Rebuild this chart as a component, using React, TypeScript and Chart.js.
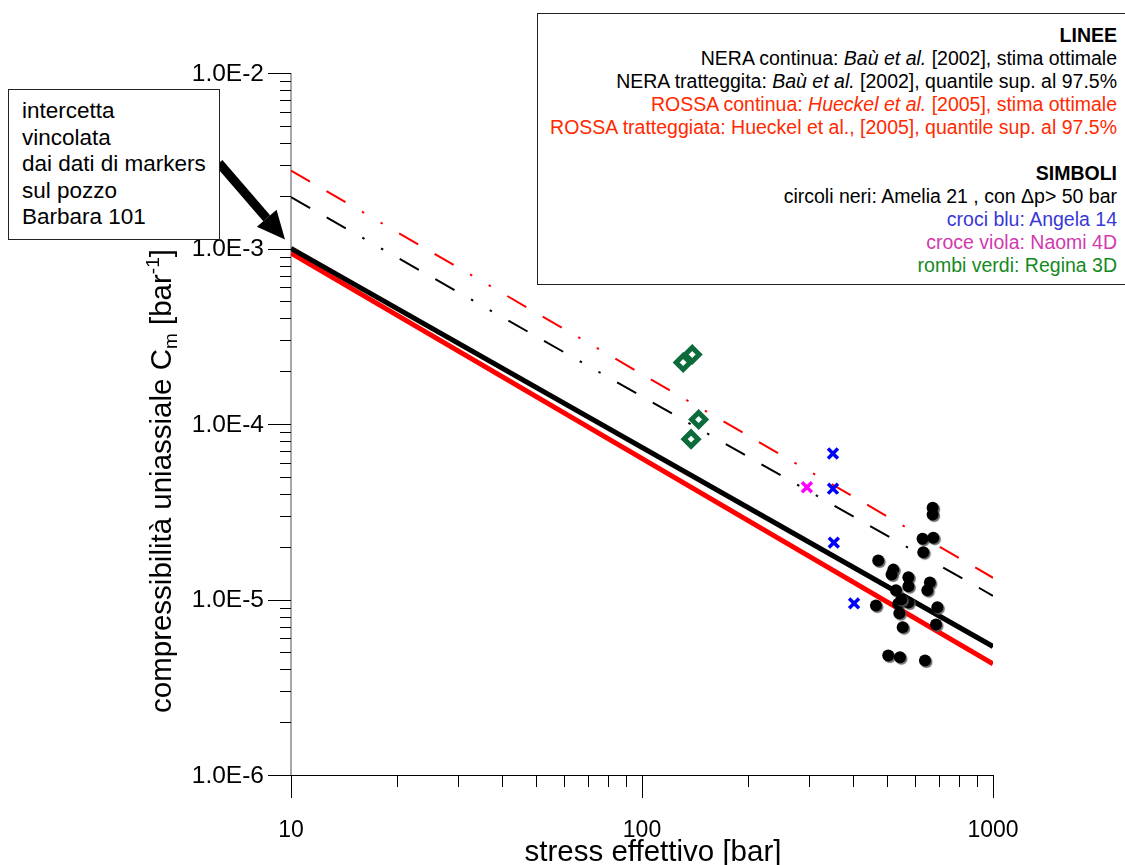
import React, { useEffect, useRef } from 'react';
import { Chart, registerables } from 'chart.js';

Chart.register(...registerables);

// ---- data ----
const STRESS_ENDS = [10, 1000];
const BLACK_SOLID = [1.0e-3, 5.4e-6];
const BLACK_DASHED = [1.96e-3, 1.05e-5];
const RED_SOLID = [9.4e-4, 4.3e-6];
const RED_DASHED = [2.78e-3, 1.33e-5];

const AMELIA_X = [673, 673, 630, 676, 633, 471, 520, 514, 574, 574, 661, 650, 529, 464, 537, 574, 541, 548, 694, 688, 553, 503, 543, 640];
const AMELIA_Y = [3.33e-5, 3.05e-5, 2.22e-5, 2.25e-5, 1.86e-5, 1.67e-5, 1.48e-5, 1.39e-5, 1.34e-5, 1.19e-5, 1.25e-5, 1.13e-5, 1.13e-5, 9.24e-6, 9.45e-6, 9.6e-6, 8.35e-6, 1.0e-5, 9.04e-6, 7.2e-6, 6.95e-6, 4.8e-6, 4.69e-6, 4.49e-6];

const ANGELA_X = [350, 350, 352, 402];
const ANGELA_Y = [6.79e-5, 4.28e-5, 2.11e-5, 9.5e-6];

const NAOMI_X = [295];
const NAOMI_Y = [4.36e-5];

const REGINA_X = [131, 139, 145, 138];
const REGINA_Y = [2.24e-4, 2.49e-4, 1.06e-4, 8.2e-5];

const X_MAJOR = [10, 100, 1000];
const X_TICK_LABELS = ['10', '100', '1000'];
const Y_MAJOR = [1e-6, 1e-5, 1e-4, 1e-3, 1e-2];
const Y_TICK_LABELS = ['1.0E-6', '1.0E-5', '1.0E-4', '1.0E-3', '1.0E-2'];

const X_TITLE = 'stress effettivo [bar]';
const Y_TITLE_MAIN = 'compressibilità uniassiale C';
const Y_TITLE_SUB = 'm';
const Y_TITLE_MID = ' [bar';
const Y_TITLE_SUP = '-1';
const Y_TITLE_END = ']';

const NOTE_LINES = ['intercetta', 'vincolata', 'dai dati di markers', 'sul pozzo', 'Barbara 101'];

const FONT = '"Liberation Sans", Arial, Helvetica, sans-serif';

const pts = (xs: number[], ys: number[]) => xs.map((x, i) => ({ x, y: ys[i] }));

const axesPlugin = {
  id: 'customAxes',
  beforeDatasetsDraw(chart: any) {
    const { ctx, chartArea } = chart;
    const xs = chart.scales.x;
    const ys = chart.scales.y;
    ctx.save();
    // y axis line
    ctx.strokeStyle = '#8a8a8a';
    ctx.lineWidth = 1.5;
    ctx.beginPath();
    ctx.moveTo(chartArea.left, chartArea.top);
    ctx.lineTo(chartArea.left, chartArea.bottom);
    ctx.stroke();
    // x axis line
    ctx.strokeStyle = '#000';
    ctx.lineWidth = 1;
    ctx.beginPath();
    ctx.moveTo(chartArea.left, chartArea.bottom + 0.5);
    ctx.lineTo(chartArea.right, chartArea.bottom + 0.5);
    ctx.stroke();
    // x ticks
    for (let d = 0; d < X_MAJOR.length; d++) {
      const px = Math.round(xs.getPixelForValue(X_MAJOR[d])) + 0.5;
      ctx.beginPath();
      ctx.moveTo(px, chartArea.bottom);
      ctx.lineTo(px, chartArea.bottom + 23);
      ctx.stroke();
      if (d < X_MAJOR.length - 1) {
        for (let m = 2; m <= 9; m++) {
          const p = Math.round(xs.getPixelForValue(X_MAJOR[d] * m)) + 0.5;
          ctx.beginPath();
          ctx.moveTo(p, chartArea.bottom);
          ctx.lineTo(p, chartArea.bottom + 12);
          ctx.stroke();
        }
      }
    }
    // y ticks
    for (let d = 0; d < Y_MAJOR.length; d++) {
      const py = Math.round(ys.getPixelForValue(Y_MAJOR[d])) + 0.5;
      ctx.beginPath();
      ctx.moveTo(chartArea.left - 23, py);
      ctx.lineTo(chartArea.left, py);
      ctx.stroke();
      if (d < Y_MAJOR.length - 1) {
        for (let m = 2; m <= 9; m++) {
          const p = Math.round(ys.getPixelForValue(Y_MAJOR[d] * m)) + 0.5;
          ctx.beginPath();
          ctx.moveTo(chartArea.left - 11, p);
          ctx.lineTo(chartArea.left, p);
          ctx.stroke();
        }
      }
    }
    // tick labels
    ctx.fillStyle = '#000';
    ctx.font = `24.5px ${FONT}`;
    ctx.textAlign = 'right';
    ctx.textBaseline = 'middle';
    Y_MAJOR.forEach((v, i) => {
      ctx.fillText(Y_TICK_LABELS[i], chartArea.left - 27, ys.getPixelForValue(v) + 1);
    });
    ctx.font = `23px ${FONT}`;
    ctx.textAlign = 'center';
    ctx.textBaseline = 'alphabetic';
    X_MAJOR.forEach((v, i) => {
      ctx.fillText(X_TICK_LABELS[i], xs.getPixelForValue(v), chartArea.bottom + 62);
    });
    // x title
    ctx.font = `29.5px ${FONT}`;
    ctx.textAlign = 'center';
    ctx.fillText(X_TITLE, 653, 861);
    // y title (rotated, with subscript and superscript)
    ctx.translate(171, 713);
    ctx.rotate(-Math.PI / 2);
    ctx.textAlign = 'left';
    ctx.textBaseline = 'alphabetic';
    let cx = 0;
    ctx.font = `29.5px ${FONT}`;
    ctx.fillText(Y_TITLE_MAIN, cx, 0);
    cx += ctx.measureText(Y_TITLE_MAIN).width;
    ctx.font = `19px ${FONT}`;
    ctx.fillText(Y_TITLE_SUB, cx, 6);
    cx += ctx.measureText(Y_TITLE_SUB).width;
    ctx.font = `29.5px ${FONT}`;
    ctx.fillText(Y_TITLE_MID, cx, 0);
    cx += ctx.measureText(Y_TITLE_MID).width;
    ctx.font = `19px ${FONT}`;
    ctx.fillText(Y_TITLE_SUP, cx, -12);
    cx += ctx.measureText(Y_TITLE_SUP).width;
    ctx.font = `29.5px ${FONT}`;
    ctx.fillText(Y_TITLE_END, cx, 0);
    ctx.restore();

    // arrow from annotation box toward intercept
    const tipX = xs.getPixelForValue(STRESS_ENDS[0]) - 6;
    const tipY = ys.getPixelForValue(BLACK_SOLID[0]) - 9;
    const sx = 219, sy = 163;
    const ang = Math.atan2(tipY - sy, tipX - sx);
    const headLen = 28, headW = 13;
    const bx = tipX - Math.cos(ang) * headLen;
    const by = tipY - Math.sin(ang) * headLen;
    ctx.save();
    ctx.strokeStyle = '#000';
    ctx.fillStyle = '#000';
    ctx.lineWidth = 9;
    ctx.beginPath();
    ctx.moveTo(sx, sy);
    ctx.lineTo(bx, by);
    ctx.stroke();
    ctx.beginPath();
    ctx.moveTo(tipX, tipY);
    ctx.lineTo(bx + Math.sin(ang) * headW, by - Math.cos(ang) * headW);
    ctx.lineTo(bx - Math.sin(ang) * headW, by + Math.cos(ang) * headW);
    ctx.closePath();
    ctx.fill();
    ctx.restore();
  },
};

const shadowPlugin = {
  id: 'markerShadow',
  beforeDatasetDraw(chart: any, args: any) {
    const ds = chart.data.datasets[args.index];
    if (ds.label === 'Amelia 21') {
      chart.ctx.save();
      chart.ctx.shadowColor = 'rgba(90,90,90,0.9)';
      chart.ctx.shadowOffsetX = 1.5;
      chart.ctx.shadowOffsetY = 1.5;
      chart.ctx.shadowBlur = 1;
    }
  },
  afterDatasetDraw(chart: any, args: any) {
    const ds = chart.data.datasets[args.index];
    if (ds.label === 'Amelia 21') chart.ctx.restore();
  },
};

const LEGEND_ROWS: { color: string; parts: { t: string; s?: 'b' | 'i' }[] }[] = [
  { color: '#000', parts: [{ t: 'LINEE', s: 'b' }] },
  { color: '#000', parts: [{ t: 'NERA continua: ' }, { t: 'Baù et al.', s: 'i' }, { t: ' [2002], stima ottimale' }] },
  { color: '#000', parts: [{ t: 'NERA tratteggita: ' }, { t: 'Baù et al.', s: 'i' }, { t: ' [2002], quantile sup. al 97.5%' }] },
  { color: '#ff2a00', parts: [{ t: 'ROSSA continua: ' }, { t: 'Hueckel et al.', s: 'i' }, { t: ' [2005], stima ottimale' }] },
  { color: '#ff2a00', parts: [{ t: 'ROSSA tratteggiata: Hueckel et al., [2005], quantile sup. al 97.5%' }] },
  { color: '#000', parts: [{ t: '\u00a0' }] },
  { color: '#000', parts: [{ t: 'SIMBOLI', s: 'b' }] },
  { color: '#000', parts: [{ t: 'circoli neri: Amelia 21 , con Δp> 50 bar' }] },
  { color: '#3838d8', parts: [{ t: 'croci blu: Angela 14' }] },
  { color: '#d23aae', parts: [{ t: 'croce viola: Naomi 4D' }] },
  { color: '#148a1e', parts: [{ t: 'rombi verdi: Regina 3D' }] },
];

export default function App() {
  const ref = useRef<HTMLCanvasElement | null>(null);

  useEffect(() => {
    if (!ref.current) return;
    const lineDs = (label: string, ys: number[], color: string, width: number, dash: number[], order: number) => ({
      type: 'line' as const,
      label,
      data: pts(STRESS_ENDS, ys),
      borderColor: color,
      backgroundColor: color,
      borderWidth: width,
      borderDash: dash,
      pointRadius: 0,
      showLine: true,
      fill: false,
      order,
    });
    const DASH = [22, 19, 22, 19, 2.5, 19, 2.5, 19];
    const chart = new Chart(ref.current, {
      type: 'scatter',
      data: {
        datasets: [
          {
            label: 'Amelia 21',
            data: pts(AMELIA_X, AMELIA_Y),
            pointStyle: 'circle',
            pointRadius: 6,
            backgroundColor: '#000',
            borderColor: '#000',
            borderWidth: 0,
            order: 0,
          },
          {
            label: 'Angela 14',
            data: pts(ANGELA_X, ANGELA_Y),
            pointStyle: 'crossRot',
            pointRadius: 7,
            borderColor: '#0000ff',
            borderWidth: 3.5,
            order: 0,
          },
          {
            label: 'Naomi 4D',
            data: pts(NAOMI_X, NAOMI_Y),
            pointStyle: 'crossRot',
            pointRadius: 7,
            borderColor: '#ff00ff',
            borderWidth: 3.5,
            order: 0,
          },
          {
            label: 'Regina 3D',
            data: pts(REGINA_X, REGINA_Y),
            pointStyle: 'rectRot',
            pointRadius: 7,
            backgroundColor: '#ffffff',
            borderColor: '#0b6b3a',
            borderWidth: 5,
            order: 0,
          },
          lineDs('Baù solid', BLACK_SOLID, '#000', 5, [], 1),
          lineDs('Hueckel solid', RED_SOLID, '#ff0000', 5, [], 2),
          lineDs('Baù dashed', BLACK_DASHED, '#000', 2, DASH, 1),
          lineDs('Hueckel dashed', RED_DASHED, '#ff0000', 2, DASH, 2),
        ] as any,
      },
      options: {
        responsive: false,
        animation: false,
        layout: { padding: { left: 291, right: 132, top: 73, bottom: 90 } },
        plugins: { legend: { display: false }, tooltip: { enabled: false } },
        scales: {
          x: { type: 'logarithmic', min: 10, max: 1000, display: false },
          y: { type: 'logarithmic', min: 1e-6, max: 1e-2, display: false },
        },
      },
      plugins: [axesPlugin, shadowPlugin],
    });
    return () => chart.destroy();
  }, []);

  return (
    <div style={{ position: 'absolute', left: 0, top: 0, width: 1125, height: 865, background: '#fff', overflow: 'hidden' }}>
      <canvas ref={ref} width={1125} height={865} style={{ position: 'absolute', left: 0, top: 0 }} />
      <div
        style={{
          position: 'absolute',
          left: 537,
          top: 13,
          width: 588,
          height: 272,
          boxSizing: 'border-box',
          border: '1px solid #222',
          borderRight: 'none',
          background: '#fff',
          fontFamily: FONT,
          fontSize: 19.5,
          lineHeight: '23px',
          textAlign: 'right',
          paddingTop: 10,
          paddingRight: 8,
          whiteSpace: 'nowrap',
        }}
      >
        {LEGEND_ROWS.map((row, i) => (
          <div key={i} style={{ color: row.color }}>
            {row.parts.map((p, j) =>
              p.s === 'b' ? (
                <b key={j}>{p.t}</b>
              ) : p.s === 'i' ? (
                <i key={j}>{p.t}</i>
              ) : (
                <span key={j}>{p.t}</span>
              )
            )}
          </div>
        ))}
      </div>
      <div
        style={{
          position: 'absolute',
          left: 8,
          top: 89,
          width: 212,
          height: 151,
          boxSizing: 'border-box',
          border: '1px solid #222',
          background: '#fff',
          fontFamily: FONT,
          fontSize: 22.5,
          lineHeight: '26.5px',
          paddingLeft: 13,
          paddingTop: 8,
          whiteSpace: 'nowrap',
          color: '#000',
        }}
      >
        {NOTE_LINES.map((l, i) => (
          <div key={i}>{l}</div>
        ))}
      </div>
    </div>
  );
}
